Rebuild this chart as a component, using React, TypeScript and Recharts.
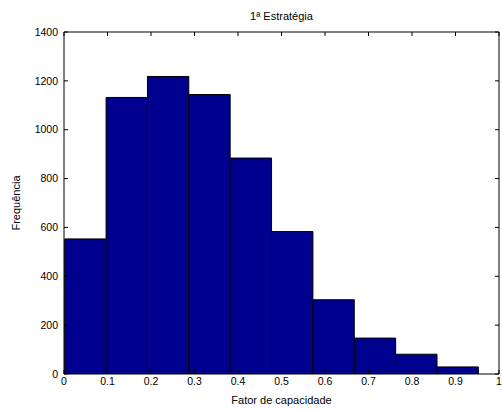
import { BarChart, Bar, XAxis, YAxis, Label } from 'recharts';

// histogram bins (centre of each bin, 10 bins from ~0.0016 to ~0.9526)
const binCentres = [0.0492, 0.1443, 0.2394, 0.3345, 0.4296, 0.5247, 0.6198, 0.7149, 0.81, 0.9051];
const counts = [553, 1132, 1218, 1144, 884, 583, 304, 147, 81, 29];
const xTicks = [0, 0.1, 0.2, 0.3, 0.4, 0.5, 0.6, 0.7, 0.8, 0.9, 1];
const yTicks = [0, 200, 400, 600, 800, 1000, 1200, 1400];
const binWidth = 0.0951;

const data = binCentres.map((x, i) => ({ x, count: counts[i] }));

const W = 502;
const H = 412;
const plotLeft = 64;
const plotRight = 3;
const plotTop = 32;
const plotBottom = 38;
const plotWidth = W - plotLeft - plotRight;

const font = { fontFamily: '"Liberation Sans", Arial, sans-serif', fontSize: 10.5, fill: '#000' };
const axisLine = { stroke: '#000' };

export default function App() {
  return (
    <div style={{ position: 'fixed', left: 0, top: 0, width: W, height: H, background: '#fff' }}>
      <div
        style={{
          position: 'absolute',
          top: 10,
          left: plotLeft,
          width: plotWidth,
          textAlign: 'center',
          fontFamily: font.fontFamily,
          fontSize: 11,
          color: '#000',
        }}
      >
        1ª Estratégia
      </div>
      <BarChart
        width={W}
        height={H}
        data={data}
        margin={{ top: 0, right: 0, bottom: 0, left: 0 }}
        barCategoryGap={0}
        style={{ position: 'absolute', left: 0, top: 0 }}
      >
        <XAxis
          dataKey="x"
          type="number"
          domain={[0, 1]}
          allowDataOverflow
          ticks={xTicks}
          height={plotBottom}
          tickSize={-4}
          tickMargin={7.5}
          axisLine={axisLine}
          tickLine={axisLine}
          tick={font}
          tickFormatter={(v: number) => String(Math.round(v * 10) / 10)}
          interval={0}
        >
          <Label value="Fator de capacidade" position="insideBottom" offset={8} style={{ ...font, fontSize: 11 }} />
        </XAxis>
        <XAxis
          xAxisId="top"
          dataKey="x"
          orientation="top"
          type="number"
          domain={[0, 1]}
          allowDataOverflow
          ticks={xTicks}
          height={plotTop}
          tickSize={-4}
          axisLine={axisLine}
          tickLine={axisLine}
          tickFormatter={() => ''}
          interval={0}
        />
        <YAxis
          type="number"
          domain={[0, 1400]}
          allowDataOverflow
          ticks={yTicks}
          width={plotLeft}
          tickSize={-4}
          tickMargin={10}
          axisLine={axisLine}
          tickLine={axisLine}
          tick={font}
          interval={0}
        >
          <Label
            content={() => (
              <text
                x={20}
                y={203}
                transform="rotate(-90, 20, 203)"
                textAnchor="middle"
                style={{ ...font, fontSize: 11 }}
              >
                Frequência
              </text>
            )}
          />
        </YAxis>
        <YAxis
          yAxisId="right"
          dataKey="count"
          orientation="right"
          type="number"
          domain={[0, 1400]}
          allowDataOverflow
          ticks={yTicks}
          width={plotRight}
          tickSize={-4}
          axisLine={axisLine}
          tickLine={axisLine}
          tickFormatter={() => ''}
          interval={0}
        />
        <Bar
          dataKey="count"
          fill="#00008F"
          stroke="#000"
          strokeWidth={1}
          barSize={binWidth * plotWidth - 0.02}
          isAnimationActive={false}
        />
        <Bar
          dataKey="count"
          xAxisId="top"
          yAxisId="right"
          fill="none"
          stroke="none"
          legendType="none"
          barSize={1}
          isAnimationActive={false}
        />
      </BarChart>
    </div>
  );
}
